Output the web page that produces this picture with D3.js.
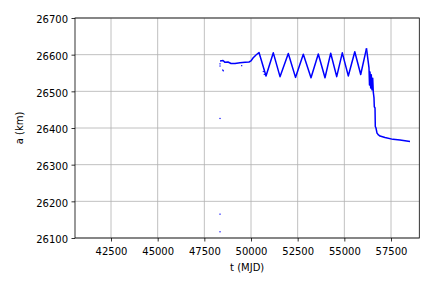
<!DOCTYPE html>
<html>
<head>
<meta charset="utf-8">
<script src="https://cdn.jsdelivr.net/npm/d3@7"></script>
<style>
  body { margin: 0; background: white; }
  text { font-family: 'DejaVu Sans', sans-serif; }
</style>
</head>
<body>
<svg id="chart" width="432" height="288"></svg>
<script>
/*
 * Values: t in MJD, a in km.
 */
let x_ticks = [42500, 45000, 47500, 50000, 52500, 55000, 57500];
let y_ticks = [26100, 26200, 26300, 26400, 26500, 26600, 26700];

// early, noisy part before the oscillation starts
let early_t = [48340, 48500, 48607, 48768, 48929, 49143, 49411, 49679, 49893, 50000, 50107, 50268];
let early_a = [26583, 26584, 26579, 26580, 26576, 26576, 26578, 26579, 26580, 26583, 26591, 26599];

// oscillation peaks and troughs
let osc_t = [50429, 50804, 51195, 51554, 51998, 52384, 52802, 53214, 53605, 53964,
             54270, 54591, 54891, 55212, 55560, 55877, 56187];
let osc_a = [26606, 26542, 26605, 26540, 26603, 26538, 26601, 26537, 26602, 26537,
             26604, 26540, 26605, 26542, 26608, 26546, 26617];

// the drop and the tail afterwards
let drop_t = [56268, 56321, 56348, 56375, 56412, 56444, 56482, 56519, 56551, 56589,
              56605, 56643, 56659, 56696, 56750, 56830, 56911, 57179, 57607, 57982, 58250, 58518];
let drop_a = [26585, 26564, 26517, 26553, 26509, 26545, 26504, 26536, 26498, 26482,
              26458, 26455, 26404, 26400, 26386, 26381, 26378, 26374, 26369, 26367, 26365, 26363];

// stray single points
let dot_t = [48340, 48340, 48483, 48520, 49500, 50659, 50712, 48340, 48340, 48340];
let dot_a = [26569, 26575, 26558, 26556, 26570, 26554, 26546, 26426, 26165, 26117];

let x_domain = [40571, 59016];
let y_domain = [26100, 26700];

let plot_left = 75, plot_right = 419.3, plot_top = 18, plot_bottom = 238;

let svg = d3.select('#chart');

let x = d3.scaleLinear().domain(x_domain).range([plot_left, plot_right]);
let y = d3.scaleLinear().domain(y_domain).range([plot_bottom, plot_top]);

/*
 * Grid lines (below the data).
 */
let grid = svg.append('g');
x_ticks.forEach(t => {
  grid.append('line')
    .attr('x1', x(t)).attr('x2', x(t))
    .attr('y1', plot_top).attr('y2', plot_bottom)
    .style('stroke', '#b0b0b0')
    .style('stroke-width', 0.8);
});
y_ticks.forEach(t => {
  grid.append('line')
    .attr('x1', plot_left).attr('x2', plot_right)
    .attr('y1', y(t)).attr('y2', y(t))
    .style('stroke', '#b0b0b0')
    .style('stroke-width', 0.8);
});

/*
 * Data.
 */
svg.append('clipPath').attr('id', 'clip')
  .append('rect')
  .attr('x', plot_left).attr('y', plot_top)
  .attr('width', plot_right - plot_left).attr('height', plot_bottom - plot_top);

let plot = svg.append('g').attr('clip-path', 'url(#clip)');

let line = d3.line()
  .x(d => x(d[0]))
  .y(d => y(d[1]));

let early = early_t.map((t, i) => [t, early_a[i]]);
let main = [early[early.length - 1]]
  .concat(osc_t.map((t, i) => [t, osc_a[i]]));
let drop = [main[main.length - 1]]
  .concat(drop_t.map((t, i) => [t, drop_a[i]]));

[early, main, drop].forEach(seg => {
  plot.append('path')
    .datum(seg)
    .attr('d', line)
    .style('fill', 'none')
    .style('stroke', '#0000ff')
    .style('stroke-width', 1.5)
    .style('stroke-linejoin', 'round');
});

dot_t.forEach((t, i) => {
  plot.append('rect')
    .attr('x', x(t) - 0.6)
    .attr('y', y(dot_a[i]) - 0.6)
    .attr('width', 1.2)
    .attr('height', 1.2)
    .style('fill', '#0000ff');
});

/*
 * Axes.
 */
let x_axis = d3.axisBottom(x)
  .tickValues(x_ticks)
  .tickFormat(d3.format('d'))
  .tickSizeInner(3.5)
  .tickSizeOuter(0)
  .tickPadding(6);

let y_axis = d3.axisLeft(y)
  .tickValues(y_ticks)
  .tickFormat(d3.format('d'))
  .tickSizeInner(3.5)
  .tickSizeOuter(0)
  .tickPadding(3.5);

let gx = svg.append('g')
  .attr('transform', 'translate(0,' + plot_bottom + ')')
  .call(x_axis);

let gy = svg.append('g')
  .attr('transform', 'translate(' + plot_left + ',0)')
  .call(y_axis);

[gx, gy].forEach(g => {
  g.select('.domain').remove();
  g.selectAll('line').style('stroke', 'black').style('stroke-width', 0.8);
  g.selectAll('text')
    .style('font-family', "'DejaVu Sans', sans-serif")
    .style('font-size', '10px')
    .style('fill', 'black');
});
gy.selectAll('text').attr('dy', '0.49em');

// spines
svg.append('rect')
  .attr('x', plot_left).attr('y', plot_top)
  .attr('width', plot_right - plot_left).attr('height', plot_bottom - plot_top)
  .style('fill', 'none')
  .style('stroke', 'black')
  .style('stroke-width', 0.8);

/*
 * Labels.
 */
svg.append('text')
  .attr('x', (plot_left + plot_right) / 2)
  .attr('y', 271)
  .attr('text-anchor', 'middle')
  .style('font-size', '10px')
  .text('t (MJD)');

svg.append('text')
  .attr('transform', 'translate(23,' + ((plot_top + plot_bottom) / 2) + ') rotate(-90)')
  .attr('text-anchor', 'middle')
  .style('font-size', '10px')
  .text('a (km)');
</script>
</body>
</html>
